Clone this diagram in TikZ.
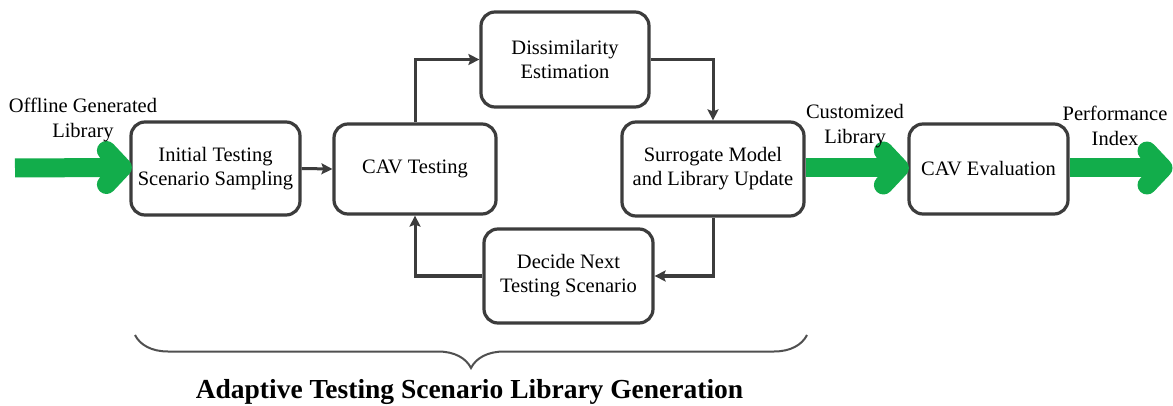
\documentclass[tikz,border=0pt]{standalone}
\usepackage{fontspec}
\setmainfont{Liberation Serif}
\usetikzlibrary{arrows.meta,calc,decorations.pathreplacing}
\definecolor{lineg}{HTML}{3C3C3C}
\definecolor{arrowgreen}{HTML}{12AD4B}
\definecolor{braceg}{HTML}{505050}
\begin{document}
\begin{tikzpicture}[x=1pt,y=-1pt,
  box/.style={draw=lineg,line width=3.2pt,rounded corners=14pt,align=center,
    font=\fontsize{20.5}{24}\selectfont,text=black,inner sep=0pt},
  conn/.style={draw=lineg,line width=3pt,-{Stealth[length=11pt,width=11pt,inset=2pt]}},
  gline/.style={draw=arrowgreen,line width=19pt},
  ghead/.style={draw=arrowgreen,line width=19pt,line cap=round,line join=round},
  lab/.style={align=center,font=\fontsize{20.5}{25}\selectfont,text=black,inner sep=0pt},
  bracestyle/.style={draw=braceg,line width=2pt,decorate,decoration={brace,amplitude=33pt}}
]
\useasboundingbox (0,0) rectangle (1173,406);
\fill[white] (0,0) rectangle (1173,406);

\node[box,minimum width=169pt,minimum height=93pt] (init) at (215.5,168.5) {Initial Testing\\Scenario Sampling};
\node[box,minimum width=162pt,minimum height=90pt] (cav) at (415,169) {CAV Testing};
\node[box,minimum width=168pt,minimum height=95pt] (diss) at (565,59.5) {Dissimilarity\\Estimation};
\node[box,minimum width=182pt,minimum height=94pt] (surr) at (713,169) {Surrogate Model\\and Library Update};
\node[box,minimum width=169pt,minimum height=94pt] (decide) at (568.5,276) {Decide Next\\Testing Scenario};
\node[box,minimum width=159pt,minimum height=90pt] (eval) at (988.5,169) {CAV Evaluation};

\coordinate (s1) at (15,168);
\coordinate (t1) at ($(init.west)+(-7,-1)$);
\coordinate (t2) at ($(eval.west)+(-8,-1)$);
\coordinate (t3) at (1163,168);

\draw[gline] (s1) -- ($(t1)+(-8,0)$);
\draw[ghead] ($(t1)+(-16,-17)$) -- (t1) -- ($(t1)+(-16,17)$);
\draw[gline] (surr.east |- t2) -- ($(t2)+(-8,0)$);
\draw[ghead] ($(t2)+(-16,-17)$) -- (t2) -- ($(t2)+(-16,17)$);
\draw[gline] (eval.east |- t3) -- ($(t3)+(-8,0)$);
\draw[ghead] ($(t3)+(-16,-17)$) -- (t3) -- ($(t3)+(-16,17)$);

\draw[conn] (init.east) -- (cav.west);
\draw[conn] (cav.north) |- (diss.west);
\draw[conn] (diss.east) -| (surr.north);
\draw[conn] (surr.south) |- (decide.east);
\draw[conn] (decide.west) -| (cav.south);

\node[lab] (l1) at (83,120) {Offline Generated\\Library};
\node[lab] (l2) at (855,126) {Customized\\Library};
\node[lab] (l3) at (1115,126) {Performance\\Index};

\coordinate (b1) at (135,335);
\coordinate (b2) at (807,335);
\draw[bracestyle] (b2) -- (b1);

\node[anchor=base,font=\fontsize{27.5}{31}\selectfont\bfseries,inner sep=0pt] (title) at (469.5,398) {Adaptive Testing Scenario Library Generation};
\end{tikzpicture}
\end{document}
